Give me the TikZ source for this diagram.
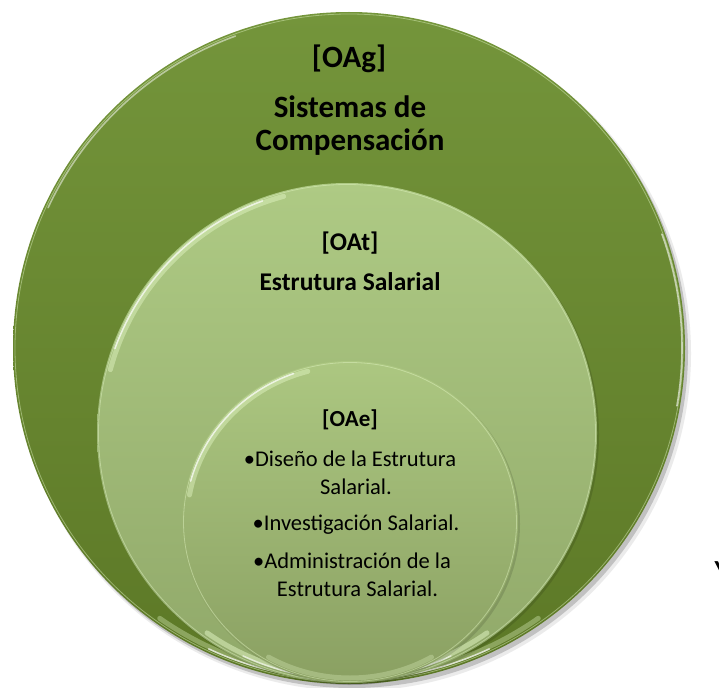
\documentclass[tikz,border=0pt]{standalone}
\usepackage{fontspec}
\usetikzlibrary{shapes.geometric}
\setmainfont{Carlito}
\definecolor{outerTop}{HTML}{74953B}
\definecolor{outerBot}{HTML}{5C7826}
\definecolor{midTop}{HTML}{AECA84}
\definecolor{midBot}{HTML}{90A869}
\definecolor{inTop}{HTML}{ACC781}
\definecolor{inBot}{HTML}{8AA062}
\definecolor{rimlight}{HTML}{E4F7C6}
\begin{document}
\begin{tikzpicture}[x=1pt,y=-1pt,
  disc/.style={circle,inner sep=0pt,draw=none},
  bigtxt/.style={font=\bfseries\fontsize{31}{34}\selectfont,anchor=base,inner sep=0pt},
  midtxt/.style={font=\bfseries\fontsize{25.5}{30}\selectfont,anchor=base,inner sep=0pt},
  smalltxt/.style={font=\fontsize{22.5}{28}\selectfont,anchor=base,inner sep=0pt},
  smallbold/.style={font=\bfseries\fontsize{23}{28}\selectfont,anchor=base,inner sep=0pt},
  rim/.style={draw=rimlight,line width=0.8pt,opacity=0.45},
  glow/.style={draw=rimlight,line width=5pt,opacity=0.35,line cap=round},
  glowthin/.style={draw=white,line width=1.6pt,opacity=0.7,line cap=round}
]
\useasboundingbox (0,0) rectangle (719,687);
% shadow
\fill[black,opacity=0.18] (352,352) circle (336);
\fill[black,opacity=0.08] (353.5,353.5) circle (337.5);
% outer circle
\node[disc,minimum size=672pt,top color=outerTop,bottom color=outerBot] (outer) at (349,348) {};
\draw[rim] (349,348) circle (334);
\draw[glow] (349,348) ++(125:330) arc[start angle=125,end angle=55,radius=330];
\draw[glowthin] (349,348) ++(115:332) arc[start angle=115,end angle=65,radius=332];
\draw[glowthin,opacity=0.5] (349,348) ++(205:332) arc[start angle=205,end angle=250,radius=332];
\draw[glowthin,opacity=0.6] (349,348) ++(10:333) arc[start angle=10,end angle=-20,radius=333];
% middle circle
\fill[black,opacity=0.12] (349,435) circle (250);
\node[disc,minimum size=500pt,top color=midTop,bottom color=midBot] (middle) at (347,433) {};
\draw[rim] (347,433) circle (248.5);
\draw[glow,opacity=0.5] (347,433) ++(125:244) arc[start angle=125,end angle=55,radius=244];
\draw[glowthin,opacity=0.6] (347,433) ++(115:246) arc[start angle=115,end angle=65,radius=246];
\draw[glow,opacity=0.45] (347,433) ++(195:245) arc[start angle=195,end angle=255,radius=245];
\draw[glowthin] (347,433) ++(200:247) arc[start angle=200,end angle=250,radius=247];
% inner circle
\fill[black,opacity=0.12] (352,524) ellipse[x radius=168,y radius=161];
\node[ellipse,inner sep=0pt,draw=none,minimum width=336pt,minimum height=322pt,top color=inTop,bottom color=inBot] (inner) at (350,522) {};
\draw[rim] (350,522) ellipse[x radius=166.5,y radius=159.5];
\draw[glow,opacity=0.3] (350,522) ++(120:{163 and 156}) arc[start angle=120,end angle=60,x radius=163,y radius=156];
\draw[glow,opacity=0.45] (350,522) ++(190:{163 and 156}) arc[start angle=190,end angle=255,x radius=163,y radius=156];
\draw[glowthin] (350,522) ++(195:{165 and 158}) arc[start angle=195,end angle=250,x radius=165,y radius=158];
% texts outer
\node[bigtxt] (tOAg) at (349,68) {[OAg]};
\node[bigtxt] (tSis) at (350,118) {Sistemas de};
\node[bigtxt] (tComp) at (350,150) {Compensación};
% texts middle
\node[midtxt] (tOAt) at (350,250) {[OAt]};
\node[midtxt] (tEst) at (350,290) {Estrutura Salarial};
% texts inner
\node[smallbold] (tOAe) at (350,426) {[OAe]};
\node[smalltxt] (l1) at (350,466) {\textbullet Diseño de la Estrutura};
\node[smalltxt] (l2) at (356,494) {Salarial.};
\node[smalltxt] (l3) at (356,530) {\textbullet Investigación Salarial.};
\node[smalltxt] (l4) at (352,568) {\textbullet Administración de la};
\node[smalltxt] (l5) at (357.5,596) {Estrutura Salarial.};
% stray glyph at the right edge
\node[font=\bfseries\fontsize{26}{30}\selectfont,anchor=north west,inner sep=0pt] (stray) at (714.5,561) {Y};
\end{tikzpicture}
\end{document}
